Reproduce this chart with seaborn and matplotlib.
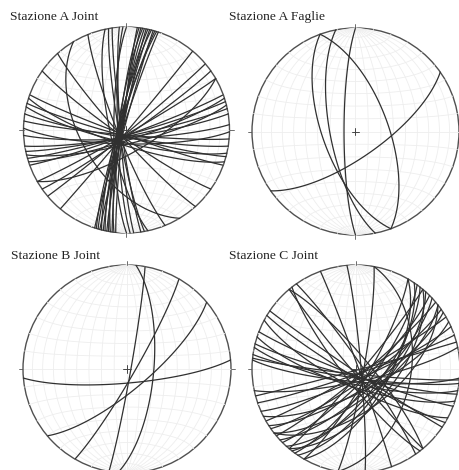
import numpy as np
import pandas as pd
import matplotlib
matplotlib.use("Agg")
import matplotlib.pyplot as plt
from matplotlib.patches import Circle
import seaborn as sns

titles = ["Stazione A Joint", "Stazione A Faglie", "Stazione B Joint", "Stazione C Joint"]

a_dipdir = [276, 277, 278, 279, 280, 281, 282, 283, 284, 285, 286, 287, 288,
            270, 268, 266, 262, 260, 258, 248, 239, 228, 215,
            200, 198, 195, 193, 189, 185, 181,
            130, 140, 145, 150, 150, 160, 162, 164, 166, 168, 171, 177]
a_dip = [87, 84, 86, 83, 85, 87, 84, 86, 83, 88, 85, 84, 87,
         80, 83, 85, 86, 84, 77, 83, 54, 84, 84,
         86, 78, 85, 80, 84, 86, 79,
         89, 88, 86, 87, 72, 86, 82, 86, 79, 85, 84, 83]

b_dipdir = [70, 259, 250, 270, 145]
b_dip = [64, 70, 64, 81, 70]

c_dipdir = [95, 140, 120, 100, 175]
c_dip = [69, 74, 84, 87, 79]

d_dipdir = [85, 100, 70, 100,
            230, 232, 55, 50, 214, 211, 208, 201, 198, 194, 192, 188, 185, 186,
            120, 120, 124, 126, 128, 130, 132, 135, 137, 140, 142, 145, 147, 150, 153, 156, 161, 165, 168,
            130, 142]
d_dip = [86, 84, 88, 46,
         87, 80, 85, 80, 88, 84, 76, 85, 76, 84, 78, 83, 80, 86,
         80, 64, 66, 76, 70, 86, 66, 80, 72, 84, 68, 80, 74, 86, 72, 82, 86, 89, 80,
         60, 58]

panels = [
    (titles[0], a_dipdir, a_dip, 126.5, 130.0, 103.0, 10, 17),
    (titles[1], b_dipdir, b_dip, 355.5, 131.5, 103.5, 229, 17),
    (titles[2], c_dipdir, c_dip, 127.0, 369.0, 104.0, 11, 256),
    (titles[3], d_dipdir, d_dip, 356.0, 369.0, 104.0, 229, 256),
]

W, H = 460, 470


def project(e, n, d):
    k = 1.0 / np.sqrt(1.0 + d)
    return e * k, n * k


def plane(dd, dip):
    t = np.radians(np.linspace(0, 180, 121))
    s = np.radians(dd - 90)
    a = np.radians(dd)
    b = np.radians(dip)
    e = np.cos(t) * np.sin(s) + np.sin(t) * np.sin(a) * np.cos(b)
    n = np.cos(t) * np.cos(s) + np.sin(t) * np.cos(a) * np.cos(b)
    d = np.clip(np.sin(t) * np.sin(b), 0, 1)
    return project(e, n, d)


def net():
    rows = []
    uid = 0
    for lon in range(-80, 81, 10):
        p = np.radians(np.linspace(-90, 90, 91))
        l = np.radians(lon)
        x, y = project(np.cos(p) * np.sin(l), np.sin(p), np.cos(p) * np.cos(l))
        rows.append(pd.DataFrame({"x": x, "y": y, "u": uid}))
        uid += 1
    for lat in range(-80, 81, 10):
        l = np.radians(np.linspace(-90, 90, 91))
        p = np.radians(lat)
        x, y = project(np.cos(p) * np.sin(l), np.full_like(l, np.sin(p)), np.cos(p) * np.cos(l))
        rows.append(pd.DataFrame({"x": x, "y": y, "u": uid}))
        uid += 1
    return pd.concat(rows, ignore_index=True)


sns.set_theme(style="white")
plt.rcParams["font.family"] = ["Liberation Serif", "DejaVu Serif"]
fig = plt.figure(figsize=(W / 100, H / 100), dpi=100, facecolor="white")
grid = net()
lim = 1.08

for title, dds, dips, cx, cy, r, tx, ty in panels:
    size = 2 * r * lim
    ax = fig.add_axes([(cx - r * lim) / W, 1 - (cy + r * lim) / H, size / W, size / H])
    ax.set_xlim(-lim, lim)
    ax.set_ylim(-lim, lim)
    ax.axis("off")
    sns.lineplot(data=grid, x="x", y="y", units="u", estimator=None, sort=False,
                 color="#eeeeee", lw=0.6, ax=ax, legend=False, errorbar=None)
    rows = []
    for i, (dd, dip) in enumerate(zip(dds, dips)):
        x, y = plane(dd, dip)
        rows.append(pd.DataFrame({"x": x, "y": y, "u": i}))
    sns.lineplot(data=pd.concat(rows, ignore_index=True), x="x", y="y", units="u",
                 estimator=None, sort=False, color="#303030", lw=0.9, ax=ax,
                 legend=False, errorbar=None)
    ax.add_patch(Circle((0, 0), 1, fill=False, ec="#505050", lw=1.0))
    ax.plot([-1.04, -1], [0, 0], [1, 1.04], [0, 0], color="#555555", lw=0.6)
    ax.plot([0, 0], [1, 1.04], [0, 0], [-1.04, -1], color="#555555", lw=0.6)
    ax.plot([-0.035, 0.035], [0, 0], color="#444444", lw=0.7)
    ax.plot([0, 0], [-0.035, 0.035], color="#444444", lw=0.7)
    fig.text(tx / W, 1 - ty / H, title, fontsize=9.7, color="#222222", va="center", ha="left")

fig.savefig("out.png", dpi=100, facecolor="white")
